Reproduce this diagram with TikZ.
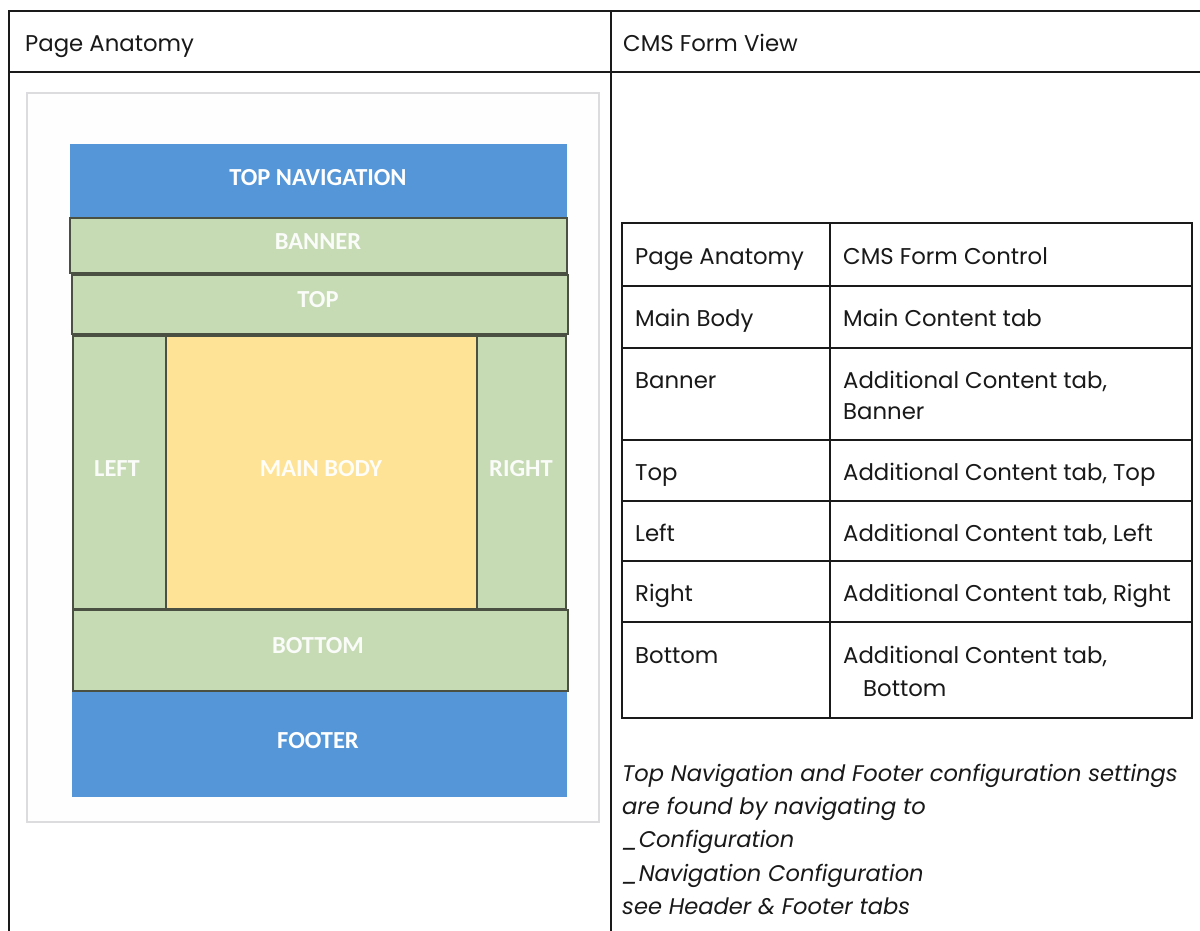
\documentclass[tikz,border=0pt]{standalone}
\usepackage{fontspec}
\setmainfont{Poppins}
\newfontfamily\lblfont{Carlito}
\definecolor{navblue}{HTML}{5596D8}
\definecolor{secgreen}{HTML}{C6DAB4}
\definecolor{mainyellow}{HTML}{FEE295}
\definecolor{framegray}{HTML}{DCDCDE}
\definecolor{edgegray}{HTML}{4A5142}
\definecolor{tline}{HTML}{1A1A1A}
\begin{document}
\begin{tikzpicture}[x=1pt,y=-1pt,
  box/.style={anchor=north west, inner sep=0pt, outer sep=0pt},
  bluebox/.style={box, fill=navblue},
  greenbox/.style={box, fill=secgreen, draw=edgegray, line width=1.1pt},
  yellowbox/.style={box, fill=mainyellow, draw=edgegray, line width=1.1pt},
  cell/.style={anchor=base west, inner sep=0pt, font=\fontsize{22.8}{26}\selectfont, text=black!90},
  note/.style={anchor=base west, inner sep=0pt, font=\itshape\fontsize{22.6}{26}\selectfont, text=black!90},
  grid/.style={draw=tline, line width=1.4pt}
]
\useasboundingbox (0,0) rectangle (1200,931);
\fill[white] (0,0) rectangle (1200,931);

% outer table
\draw[grid] (9,931) -- (9,11) -- (1201,11);
\draw[grid] (9,72) -- (1201,72);
\draw[grid] (611,11) -- (611,931);
\node[cell] (hleft) at (25,52) {Page Anatomy};
\node[cell] (hright) at (623,52) {CMS Form View};

% page anatomy image frame
\fill[white!99!gray] (27,93) rectangle (599,822);
\draw[framegray, line width=2.5pt] (27,93) rectangle (599,822);

\node[bluebox, minimum width=497pt, minimum height=74pt] (topnav) at (70,144) {};
\node[greenbox, minimum width=497pt, minimum height=55pt] (banner) at (70,218) {};
\node[greenbox, minimum width=496pt, minimum height=59pt] (top) at (72,275) {};
\node[greenbox, minimum width=93pt, minimum height=273pt] (left) at (73,336) {};
\node[yellowbox, minimum width=311pt, minimum height=273pt] (main) at (166,336) {};
\node[greenbox, minimum width=89pt, minimum height=273pt] (right) at (477,336) {};
\node[greenbox, minimum width=495pt, minimum height=81pt] (bottom) at (73,610) {};
\node[bluebox, minimum width=495pt, minimum height=105pt] (footer) at (72,692) {};

\begin{scope}[every node/.style={font=\lblfont\bfseries\fontsize{24.5}{28}\selectfont, inner sep=0pt}]
\node[text=white] (ltopnav) at (318,178) {TOP NAVIGATION};
\node[text=white!92!secgreen] (lbanner) at (318,242) {BANNER};
\node[text=white!92!secgreen] (ltop) at (318,300) {TOP};
\node[text=white!92!secgreen] (lleft) at (117,469) {LEFT};
\node[text=white!92!mainyellow] (lmain) at (321,469) {MAIN BODY};
\node[text=white!92!secgreen] (lright) at (521,469) {RIGHT};
\node[text=white!92!secgreen] (lbottom) at (318,646) {BOTTOM};
\node[text=white] (lfooter) at (318,741) {FOOTER};
\end{scope}

% inner table
\draw[grid] (622,223) rectangle (1192,718);
\draw[grid] (830,223) -- (830,718);
\foreach \yy in {286,348,440,501,561,622}
  \draw[grid] (622,\yy) -- (1192,\yy);

\node[cell] (a0) at (635,264) {Page Anatomy};
\node[cell] (b0) at (843,264) {CMS Form Control};
\node[cell] (a1) at (635,326) {Main Body};
\node[cell] (b1) at (843,326) {Main Content tab};
\node[cell] (a2) at (635,388) {Banner};
\node[cell] (b2) at (843,388) {Additional Content tab,};
\node[cell] (b2b) at (843,419) {Banner};
\node[cell] (a3) at (635,480) {Top};
\node[cell] (b3) at (843,480) {Additional Content tab, Top};
\node[cell] (a4) at (635,541) {Left};
\node[cell] (b4) at (843,541) {Additional Content tab, Left};
\node[cell] (a5) at (635,601) {Right};
\node[cell] (b5) at (843,601) {Additional Content tab, Right};
\node[cell] (a6) at (635,663) {Bottom};
\node[cell] (b6) at (843,663) {Additional Content tab,};
\node[cell] (b6b) at (863,696) {Bottom};

\node[note] (n1) at (622,781) {Top Navigation and Footer configuration settings};
\node[note] (n2) at (622,814) {are found by navigating to};
\node[note] (n3) at (622,847) {\_Configuration};
\node[note] (n4) at (622,881) {\_Navigation Configuration};
\node[note] (n5) at (622,914) {see Header \& Footer tabs};
\end{tikzpicture}
\end{document}
